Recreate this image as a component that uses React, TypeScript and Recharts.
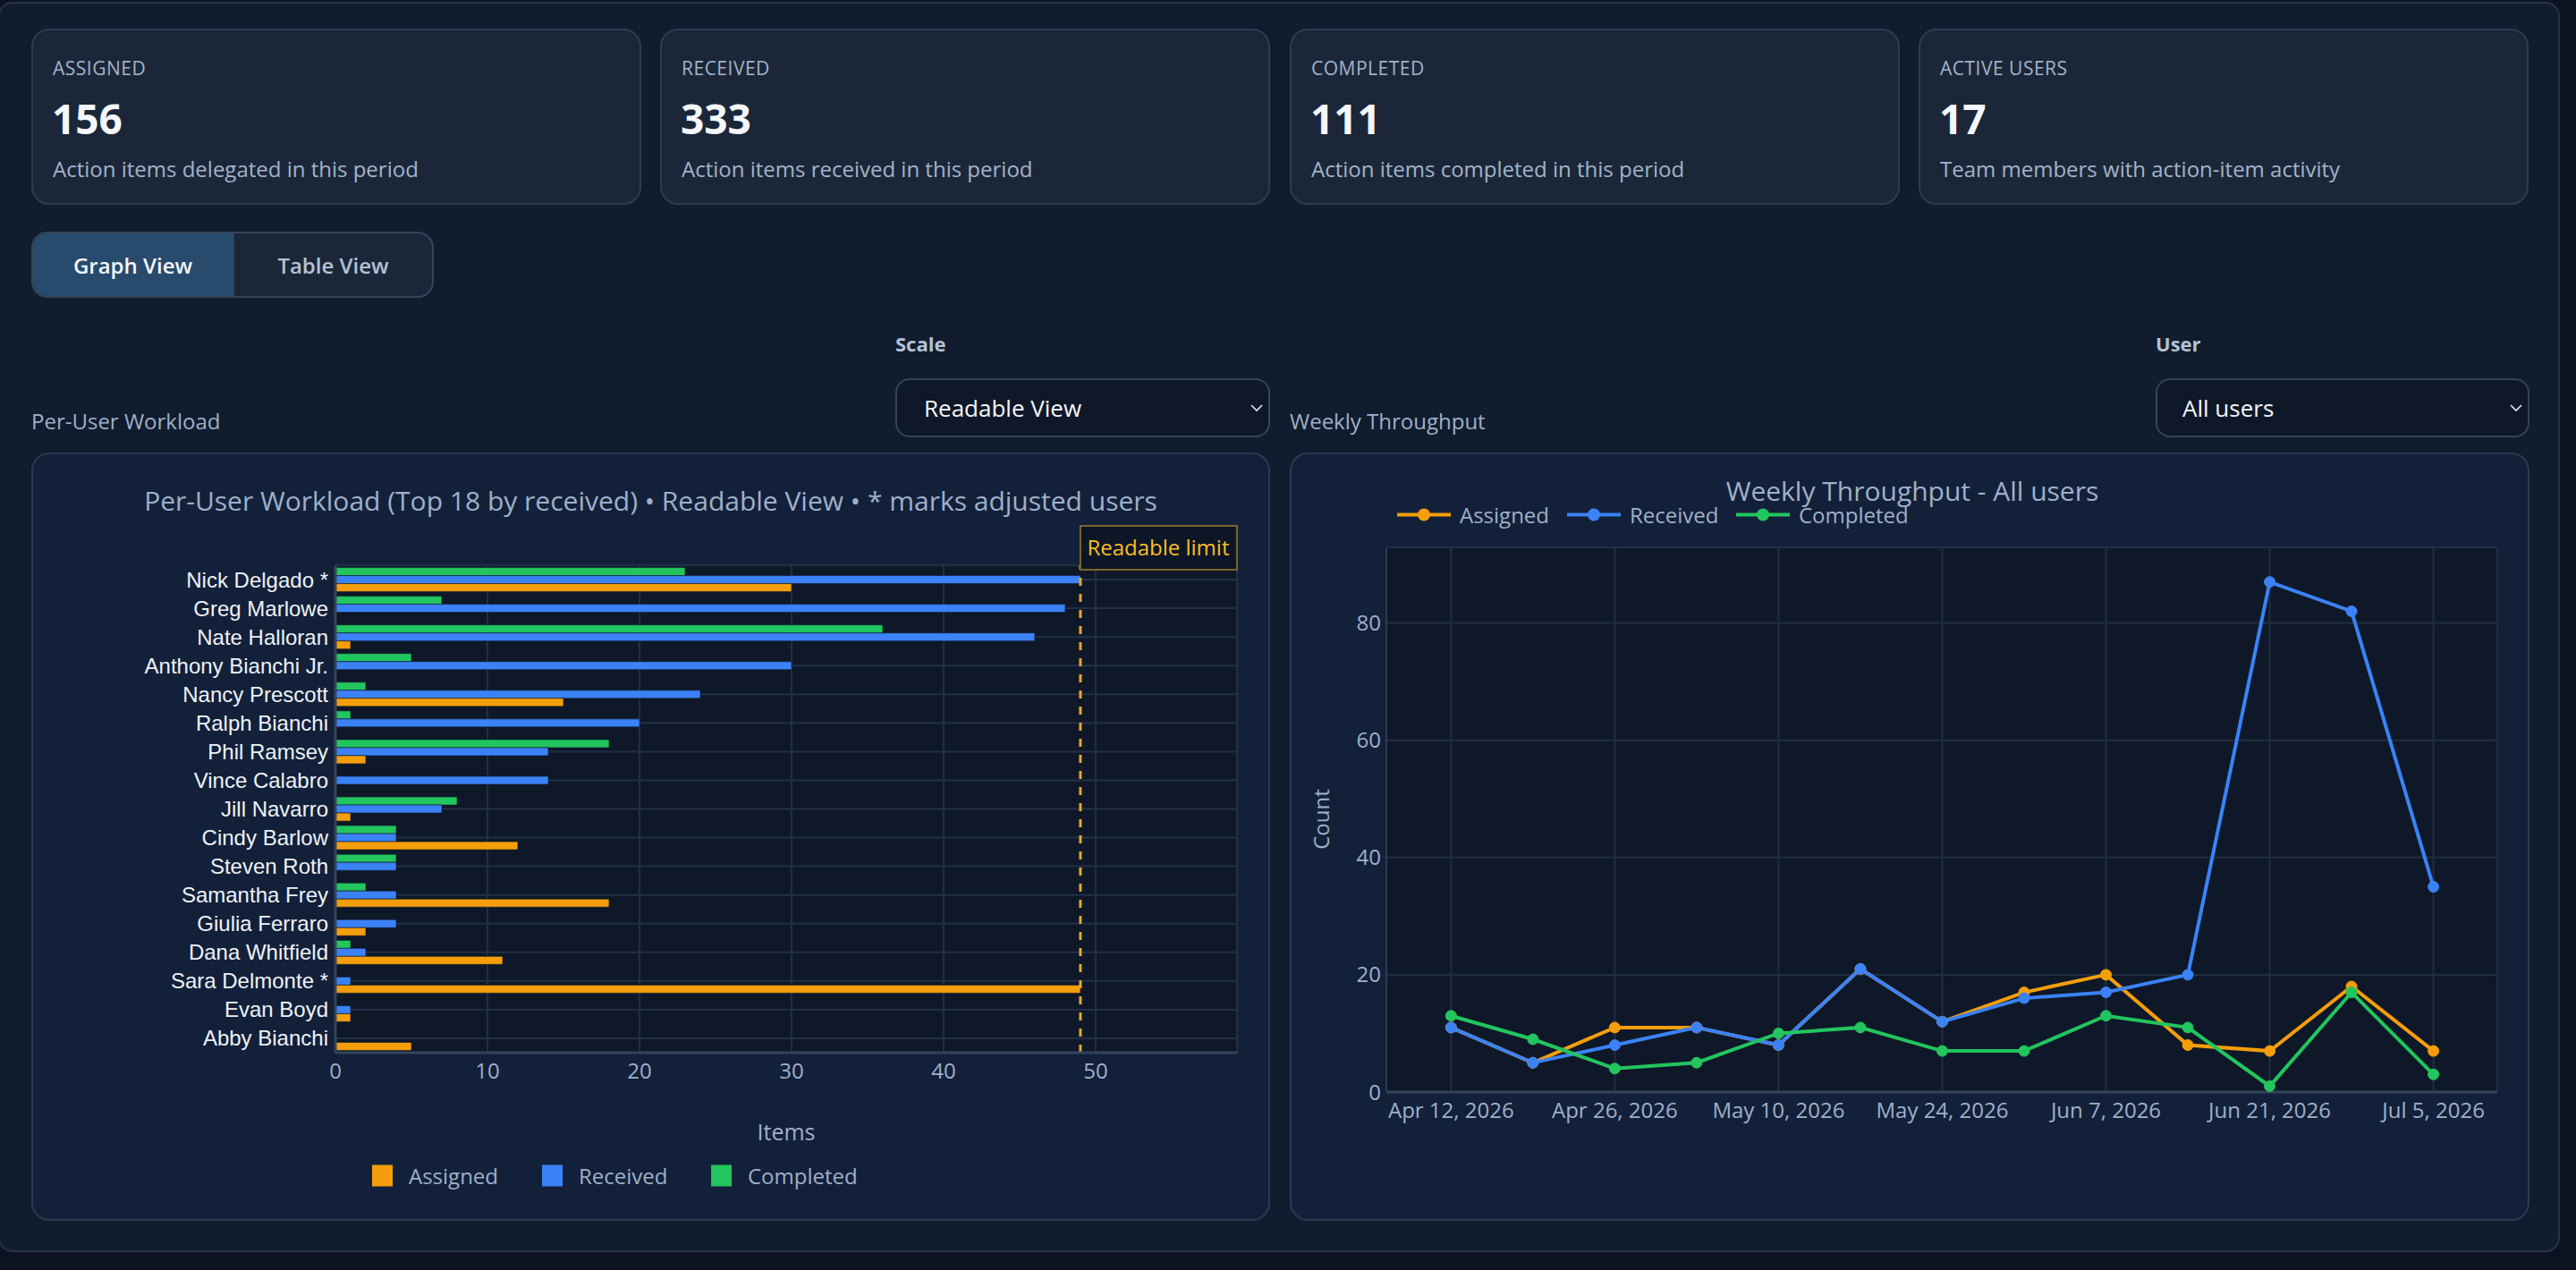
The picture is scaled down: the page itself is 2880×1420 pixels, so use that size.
import React from "react";
import {
  Bar,
  BarChart,
  CartesianGrid,
  Line,
  LineChart,
  ReferenceLine,
  XAxis,
  YAxis,
} from "recharts";

// KPI cards
const KPI_LABELS = ["ASSIGNED", "RECEIVED", "COMPLETED", "ACTIVE USERS"];
const KPI_VALUES = ["156", "333", "111", "17"];
const KPI_NOTES = [
  "Action items delegated in this period",
  "Action items received in this period",
  "Action items completed in this period",
  "Team members with action-item activity",
];

// Per-user workload (top to bottom)
const USERS = [
  "Nick Delgado *",
  "Greg Marlowe",
  "Nate Halloran",
  "Anthony Bianchi Jr.",
  "Nancy Prescott",
  "Ralph Bianchi",
  "Phil Ramsey",
  "Vince Calabro",
  "Jill Navarro",
  "Cindy Barlow",
  "Steven Roth",
  "Samantha Frey",
  "Giulia Ferraro",
  "Dana Whitfield",
  "Sara Delmonte *",
  "Evan Boyd",
  "Abby Bianchi",
];
const USER_ASSIGNED = [30, 0, 1, 0, 15, 0, 2, 0, 1, 12, 0, 18, 2, 11, 49, 1, 5];
const USER_RECEIVED = [49, 48, 46, 30, 24, 20, 14, 14, 7, 4, 4, 4, 4, 2, 1, 1, 0];
const USER_COMPLETED = [23, 7, 36, 5, 2, 1, 18, 0, 8, 4, 4, 2, 0, 1, 0, 0, 0];
const READABLE_LIMIT = 49;
const BAR_X_MAX = 59.3;
const BAR_X_TICKS = [0, 10, 20, 30, 40, 50];

// Weekly throughput
const WEEKS = [
  "2026-04-12", "2026-04-19", "2026-04-26", "2026-05-03", "2026-05-10",
  "2026-05-17", "2026-05-24", "2026-05-31", "2026-06-07", "2026-06-14",
  "2026-06-21", "2026-06-28", "2026-07-05",
];
const WEEK_ASSIGNED = [11, 5, 11, 11, 8, 21, 12, 17, 20, 8, 7, 18, 7];
const WEEK_RECEIVED = [11, 5, 8, 11, 8, 21, 12, 16, 17, 20, 87, 82, 35];
const WEEK_COMPLETED = [13, 9, 4, 5, 10, 11, 7, 7, 13, 11, 1, 17, 3];
const WEEK_TICKS = ["2026-04-12", "2026-04-26", "2026-05-10", "2026-05-24", "2026-06-07", "2026-06-21", "2026-07-05"];
const COUNT_TICKS = [0, 20, 40, 60, 80];
const COUNT_MAX = 92.9;

const ORANGE = "#f59e0b";
const BLUE = "#3b82f6";
const GREEN = "#22c55e";
const MUTED = "#9fb0c8";
const FONT = "'Open Sans', sans-serif";
const WEEK_MS = 7 * 24 * 3600 * 1000;

const toTs = (d: string) => Date.parse(`${d}T00:00:00Z`);

const workload = USERS.map((name, i) => ({
  name,
  assigned: USER_ASSIGNED[i],
  received: USER_RECEIVED[i],
  completed: USER_COMPLETED[i],
}));

const weekly = WEEKS.map((w, i) => ({
  ts: toTs(w),
  assigned: WEEK_ASSIGNED[i],
  received: WEEK_RECEIVED[i],
  completed: WEEK_COMPLETED[i],
}));

function fmtWeek(ts: number) {
  return new Date(ts).toLocaleDateString("en-US", {
    month: "short",
    day: "numeric",
    year: "numeric",
    timeZone: "UTC",
  });
}

function LimitLabel(props: any) {
  const vb = props.viewBox || {};
  const x = vb.x ?? 0;
  const y = vb.y ?? 0;
  return (
    <g>
      <rect x={x} y={y - 44} width={175} height={49} fill="#0d1626" stroke="#7a6530" strokeWidth={2} />
      <text x={x + 87} y={y - 11} textAnchor="middle" fill="#fbbf24" fontSize={24} fontFamily={FONT}>
        Readable limit
      </text>
    </g>
  );
}

function Chevron({ x, y }: { x: number; y: number }) {
  return (
    <svg style={{ position: "absolute", left: x, top: y }} width={16} height={10}>
      <polyline points="2,2 8,8 14,2" fill="none" stroke="#e2e8f0" strokeWidth={1.6} />
    </svg>
  );
}

const abs = (s: React.CSSProperties): React.CSSProperties => ({ position: "absolute", ...s });

export default function App() {
  const cardX = [35, 738, 1442, 2145];
  const xDomain = [toTs(WEEKS[0]) - 0.79 * WEEK_MS, toTs(WEEKS[WEEKS.length - 1]) + 0.78 * WEEK_MS];

  return (
    <div
      style={abs({
        left: 0,
        top: 0,
        width: 2880,
        height: 1420,
        background: "#0b1320",
        overflow: "hidden",
        fontFamily: FONT,
      })}
    >
      {/* outer panel */}
      <div
        style={abs({
          left: -2,
          top: 2,
          width: 2864,
          height: 1398,
          background: "#111c2e",
          border: "2px solid #26354a",
          borderRadius: 16,
          boxSizing: "border-box",
        })}
      />

      {KPI_LABELS.map((label, i) => (
        <div
          key={label}
          style={abs({
            left: cardX[i],
            top: 32,
            width: 682,
            height: 197,
            background: "#1b2739",
            border: "2px solid #2d3c52",
            borderRadius: 20,
            boxSizing: "border-box",
          })}
        >
          <div style={abs({ left: 22, top: 42, transform: "translateY(-50%)", fontSize: 21, color: "#a3b3c9", letterSpacing: 0.5, whiteSpace: "nowrap" })}>
            {label}
          </div>
          <div style={abs({ left: 21, top: 98, transform: "translateY(-50%)", fontSize: 46, fontWeight: 700, color: "#f4f7fb", lineHeight: 1 })}>
            {KPI_VALUES[i]}
          </div>
          <div style={abs({ left: 22, top: 154, transform: "translateY(-50%)", fontSize: 24, color: "#a3b3c9", whiteSpace: "nowrap" })}>
            {KPI_NOTES[i]}
          </div>
        </div>
      ))}

      {/* view toggle */}
      <div
        style={abs({
          left: 35,
          top: 259,
          width: 450,
          height: 74,
          border: "2px solid #33455c",
          borderRadius: 18,
          overflow: "hidden",
          boxSizing: "border-box",
          background: "#1b2739",
          display: "flex",
        })}
      >
        <div style={{ width: 223, background: "#284a6c", color: "#f4f7fb", fontSize: 24, fontWeight: 600, display: "flex", alignItems: "center", justifyContent: "center", borderRight: "2px solid #33455c" }}>
          Graph View
        </div>
        <div style={{ flex: 1, color: "#b4c2d4", fontSize: 24, fontWeight: 600, display: "flex", alignItems: "center", justifyContent: "center" }}>
          Table View
        </div>
      </div>

      {/* section headers & selects */}
      <div style={abs({ left: 1001, top: 384, transform: "translateY(-50%)", fontSize: 22, fontWeight: 700, color: "#b4c2d4" })}>Scale</div>
      <div style={abs({ left: 1001, top: 423, width: 419, height: 66, background: "#0f1828", border: "2px solid #33455c", borderRadius: 16, boxSizing: "border-box" })}>
        <div style={abs({ left: 30, top: 31, transform: "translateY(-50%)", fontSize: 26, color: "#f4f7fb" })}>Readable View</div>
        <Chevron x={394} y={26} />
      </div>
      <div style={abs({ left: 35, top: 470, transform: "translateY(-50%)", fontSize: 24, color: MUTED })}>Per-User Workload</div>

      <div style={abs({ left: 2410, top: 384, transform: "translateY(-50%)", fontSize: 22, fontWeight: 700, color: "#b4c2d4" })}>User</div>
      <div style={abs({ left: 2410, top: 423, width: 418, height: 66, background: "#0f1828", border: "2px solid #33455c", borderRadius: 16, boxSizing: "border-box" })}>
        <div style={abs({ left: 28, top: 31, transform: "translateY(-50%)", fontSize: 26, color: "#f4f7fb" })}>All users</div>
        <Chevron x={393} y={26} />
      </div>
      <div style={abs({ left: 1442, top: 470, transform: "translateY(-50%)", fontSize: 24, color: MUTED })}>Weekly Throughput</div>

      {/* left chart card */}
      <div
        style={abs({
          left: 35,
          top: 506,
          width: 1385,
          height: 859,
          background: "#13203a",
          border: "2px solid #2a3a50",
          borderRadius: 20,
          boxSizing: "border-box",
        })}
      />
      <div style={abs({ left: 35, width: 1385, top: 559, transform: "translateY(-50%)", textAlign: "center", fontSize: 30, color: MUTED, whiteSpace: "nowrap" })}>
        Per-User Workload (Top 18 by received) • Readable View • * marks adjusted users
      </div>
      <div style={abs({ left: 35, top: 506 })}>
        <BarChart
          width={1385}
          height={859}
          data={workload}
          layout="vertical"
          margin={{ top: 126, right: 37, left: 0, bottom: 148 }}
          barCategoryGap="8%"
          barGap={0}
        >
          <CartesianGrid fill="#0f1828" stroke="#223046" strokeWidth={2} />
          <XAxis
            type="number"
            domain={[0, BAR_X_MAX]}
            ticks={BAR_X_TICKS}
            allowDataOverflow
            height={40}
            tickLine={false}
            tickSize={8}
            tickMargin={4}
            axisLine={{ stroke: "#34445a", strokeWidth: 3 }}
            tick={{ fill: MUTED, fontSize: 24, fontFamily: FONT }}
          />
          <YAxis
            type="category"
            dataKey="name"
            width={340}
            tickLine={false}
            tickSize={6}
            tickMargin={2}
            interval={0}
            axisLine={{ stroke: "#34445a", strokeWidth: 3 }}
            tick={{ fill: "#eef2f7", fontSize: 24, fontFamily: "'Liberation Sans', Arial, sans-serif" }}
          />
          <Bar dataKey="completed" fill={GREEN} stroke="#0f1828" strokeWidth={0.6} isAnimationActive={false} />
          <Bar dataKey="received" fill={BLUE} stroke="#0f1828" strokeWidth={0.6} isAnimationActive={false} />
          <Bar dataKey="assigned" fill={ORANGE} stroke="#0f1828" strokeWidth={0.6} isAnimationActive={false} />
          <ReferenceLine
            x={READABLE_LIMIT}
            stroke="#e5a92a"
            strokeWidth={3}
            strokeDasharray="9 9"
            label={<LimitLabel />}
          />
        </BarChart>
      </div>
      <div style={abs({ left: 879, top: 1265, transform: "translate(-50%, -50%)", fontSize: 25, color: MUTED })}>Items</div>
      {["Assigned", "Received", "Completed"].map((name, i) => (
        <div key={name} style={abs({ left: [416, 606, 795][i], top: 1314, transform: "translateY(-50%)", display: "flex", alignItems: "center" })}>
          <div style={{ width: 23, height: 24, background: [ORANGE, BLUE, GREEN][i] }} />
          <div style={{ marginLeft: 18, fontSize: 24, color: MUTED }}>{name}</div>
        </div>
      ))}

      {/* right chart card */}
      <div
        style={abs({
          left: 1442,
          top: 506,
          width: 1386,
          height: 859,
          background: "#13203a",
          border: "2px solid #2a3a50",
          borderRadius: 20,
          boxSizing: "border-box",
        })}
      />
      <div style={abs({ left: 2138, top: 548, transform: "translate(-50%, -50%)", fontSize: 30, color: MUTED, whiteSpace: "nowrap" })}>
        Weekly Throughput - All users
      </div>
      {["Assigned", "Received", "Completed"].map((name, i) => (
        <div key={name} style={abs({ left: [1562, 1752, 1941][i], top: 575, transform: "translateY(-50%)", display: "flex", alignItems: "center" })}>
          <svg width={60} height={20}>
            <line x1={0} y1={10} x2={60} y2={10} stroke={[ORANGE, BLUE, GREEN][i]} strokeWidth={4} />
            <circle cx={30} cy={10} r={7} fill={[ORANGE, BLUE, GREEN][i]} />
          </svg>
          <div style={{ marginLeft: 10, fontSize: 24, color: MUTED }}>{name}</div>
        </div>
      ))}
      <div style={abs({ left: 1476, top: 916, transform: "translate(-50%, -50%) rotate(-90deg)", fontSize: 24, color: MUTED })}>Count</div>
      <div style={abs({ left: 1442, top: 506 })}>
        <LineChart width={1386} height={859} data={weekly} margin={{ top: 106, right: 36, left: 0, bottom: 88 }}>
          <CartesianGrid fill="#0f1828" stroke="#212e42" strokeWidth={2} />
          <XAxis
            dataKey="ts"
            type="number"
            domain={xDomain}
            ticks={WEEK_TICKS.map(toTs)}
            tickFormatter={fmtWeek}
            allowDataOverflow
            height={56}
            tickLine={false}
            tickSize={8}
            tickMargin={4}
            axisLine={{ stroke: "#34445a", strokeWidth: 3 }}
            tick={{ fill: MUTED, fontSize: 24, fontFamily: FONT }}
          />
          <YAxis
            type="number"
            domain={[0, COUNT_MAX]}
            ticks={COUNT_TICKS}
            allowDataOverflow
            width={108}
            tickLine={false}
            tickSize={4}
            tickMargin={2}
            axisLine={{ stroke: "#2a3a50", strokeWidth: 2 }}
            tick={{ fill: MUTED, fontSize: 24, fontFamily: FONT }}
          />
          <Line type="linear" dataKey="assigned" stroke={ORANGE} strokeWidth={4} dot={{ r: 6, fill: ORANGE, stroke: ORANGE, strokeWidth: 1 }} isAnimationActive={false} />
          <Line type="linear" dataKey="received" stroke={BLUE} strokeWidth={4} dot={{ r: 6, fill: BLUE, stroke: BLUE, strokeWidth: 1 }} isAnimationActive={false} />
          <Line type="linear" dataKey="completed" stroke={GREEN} strokeWidth={4} dot={{ r: 6, fill: GREEN, stroke: GREEN, strokeWidth: 1 }} isAnimationActive={false} />
        </LineChart>
      </div>
    </div>
  );
}
